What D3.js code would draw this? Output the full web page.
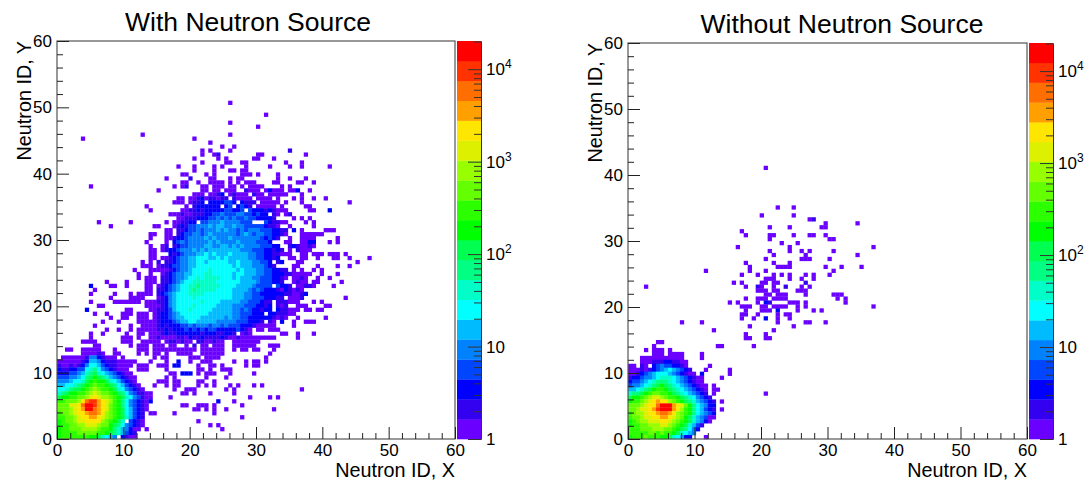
<!DOCTYPE html>
<html>
<head>
<meta charset="utf-8">
<script src="https://d3js.org/d3.v7.min.js"></script>
<style>
  body { margin: 0; background: #fff; }
  text { font-family: "Liberation Sans", Arial, sans-serif; fill: #000; }
</style>
</head>
<body>
<script>
// Colour bands of the z axis, lowest count first
const bandKeys = '0123456789abcdefghij'.split('');
const bandColors = ['#6a00ff', '#3300f0', '#0000ff', '#0046ff', '#0082ff', '#00bcff', '#00ffff', '#00ffc8', '#00ff82', '#00ff50',
  '#00ff00', '#2cff00', '#64ff00', '#98ff00', '#dcf000', '#ffe600', '#ffa000', '#ff6e00', '#ff3200', '#ff0000'];

const majorTicks = [0, 10, 20, 30, 40, 50, 60];
const minorTicks = [2, 4, 6, 8, 12, 14, 16, 18, 22, 24, 26, 28, 32, 34, 36, 38, 42, 44, 46, 48, 52, 54, 56, 58];
const zDecades = [1, 10, 100, 1000, 10000];
const zMinors = [2, 3, 4, 5, 6, 7, 8, 9, 20, 30, 40, 50, 60, 70, 80, 90, 200, 300, 400, 500, 600, 700, 800, 900,
  2000, 3000, 4000, 5000, 6000, 7000, 8000, 9000, 20000];

// Each entry: row from the top of the 100x100 grid, then col:bands runs ('.' = empty bin)
const withSource = [
  'r15 43:0', 'r18 52:0', 'r20 43:0', 'r21 50:0', 'r23 21:0 43:0', 'r24 6:0 34:0', 'r25 38:0', 'r26 41:0 44:0',
  'r27 36:0 38:0 43:0 58:1', 'r28 36:0 39:01 50:0 51:0 62:0', 'r29 34:0 40:0 42:0 49:00 54:0',
  'r30 36:0 42:00 46:00 57:0 61:0', 'r31 30:0 34:0 39:0 41:0 47:0 53:0 58:0 61:0 68:0',
  'r32 34:0 39:0 43:00 46:00', 'r33 31:00 37:0 39:0 46:000 50:0 55:0',
  'r34 27:0 33:1 38:00 43:0 45:00 55:0 58:0 62:0',
  'r35 31:00 35:0 38:00 40:00 43:0 45:0 47:000 54:00 60:00 64:0',
  'r36 8:0 29:0 31:01 36:00 39:000 43:00 46:0 48:0000 56:0 58:0',
  'r37 25:0 36:00 39:00.000 46:.1000.0200 56:0 58:00 60:2 63:0',
  'r38 34:000 38:0012.0100 46:00.100.0000 56:00 61:0',
  'r39 30:00 33:0012011011.10000.0000 55:0 59:0 61:0 64:0 67:0',
  'r40 29:000 33:0112 37:.2222 42:332.2111.00000 55:0 57:0 61:0 73:0',
  'r41 22:0 32:0.122223 39:22.23.233 47:21.00000 56:0 62:00',
  'r42 23:0 31:0011212222233223 47:.32221210 56:00 63:00 68:2',
  'r43 28:000 31:1001112233433344 47:332322.10.01',
  'r44 30:0011122233434343343322221 59:0 61:0 63:0',
  'r45 10:0 18:0 27:0 29:001122.3344454444333 51:.321100 62:0 64:0',
  'r46 13:0 24:00 29:01213344454554454433 49:3332110 57:.0 64:0',
  'r47 27:00 30:112334344454544343444 51:3332211.2.0 67:000',
  'r48 23:00 27:00 29:.1233443454444443454 49:344332210 61:000000',
  'r49 23:0 27:0011 30:22344445454445444 47:444432321 57:.0 61:0000 70:0',
  'r50 22:0 27:0.2 30:34344444545444 44:4544443 51:332 57:00 61:00 63:22 68:0 70:0',
  'r51 23:0 26:01.12 31:3344445544554 44:54544443 52:3322 57:.121 61:0012 64:0',
  'r52 23:00 26:0122 30:344454545555 42:555544 48:43332 53:2121 58:0.10 61:000',
  'r53 23:00 28:2 29:123444556565556 44:5555 48:44332 53:21100 58:0 61:00 64:000 68:000 72:0',
  'r54 23:00 26:0012 30:3445566655 40:6565555 47:54433 52:2212 58:00 61:00 65:0 69:00 73:0 78:0',
  'r55 21:0 23:0 25:1 27:112 30:3445566566 40:6665565554 50:4332 55:12 60:00 75:0',
  'r56 21:000 25:01123 30:344556666666 42:66565554 50:44321 59:00 65:0 70:0 73:0',
  'r57 19:0 23:00000 28:123445666676 40:666665655 49:54433 54:2211 59:0 61:0 64:0 66:0',
  'r58 20:0 23:0 26:012 29:344556667766 41:66656655 49:54433 54:2221 58:1000 62:00 66:0 70:0',
  'r59 20:0 22:000 26:1 27:123445667677 39:77666565 47:5544 51:33322 56:10 59:001 62:0 65:0 68:0',
  'r60 12:0 17:0 22:000 26:1 27:1234 31:5667777 38:776666 44:6655 48:55433 53:3221 59:0100 64:00 71:0',
  'r61 8:2 13:00 17:0 22:00 25:01 27:2345 31:6677877 38:777666 44:6555 48:543 51:333.3221 60:00110 69:0',
  'r62 9:0 22:0 23:0.1 26:12345 31:6678777 38:776666 44:5555 48:43 50:4322 54:210 57:21010',
  'r63 8:0 14:0 18:0 20:000 23:0 25:12 27:3456 31:6677776 38:666666 44:5554 48:43 50:3222 54:2221 58:10012',
  'r64 13:0 18:0000 25:012 28:45 30:6666766 37:666666 43:65554 48:43 50:3322 54:211 58:0001 72:0',
  'r65 8:0 14:0000000 22:00 24:0112 28:45 30:66666676 38:66655 43:55544 48:33 50:3211 55:111000 64:0 66:0',
  'r66 10:00 22:000 25:012 28:45 30:6666766 37:6665 41:55544 46:433 49:3221 53:2.101 60:000 67:00',
  'r67 7:2 17:00 23:001 26:12 28:35 30:6667666 37:6655 41:555443 47:4 48:3221 52:22 55:21100 60:0 62:00 65:00',
  'r68 9:0 12:0 16:000 20:000 24:012 27:2345 31:6666666 38:5555 42:55443 47:33222 53:2211100',
  'r69 13:0 16:00 20:0 21:00 24:0 25:12 27:2345 31:566665 37:55555 42:4544 46:33222 51:222 54:1010 60:0 67:0',
  'r70 11:0 15:0 20:000 23:00 25:12 27:2234 31:5566555 38:55444 43:44333 48:22 50:21.10 56:2 59:0 62:000',
  'r71 9:0 18:0 21:000 24:012 27:12223343444344 41:3433322212 49:10 51:000 54:0 59:0',
  'r72 12:0 15:0 18:0 20:0000 24:0112 28:1222323232332 41:22223212 48:0 50:00 53:000',
  'r73 8:0 11:0 17:0 20:00 23:00 25:012112222 34:22122211221 46:01 48:0 56:00 60:0 64:0',
  'r74 8:0 16:000 20:0 23:0 24:0100 28:0011021121 38:11121001 46:00 48:00 50:00000 60:0',
  'r75 6:0000 16:000 21:0 22:000 25:0.01 29:1010 33:0.110 38:0100 44:0000000',
  'r76 9:00 18:0 20:00 22:0 24:000 28:00 32:0.1 36:00.0 40:00 44:000000 53:000',
  'r77 2:00 6:00000 14:0 20:00 22:0 24:0000 28:0000000 36:000000 44:0 46:00 49:00 54:0',
  'r78 6:000010 14:00 20:0 22:0 24:00 27:0 30:0000 36:000000 53:0',
  'r79 1:00000 6:0144210 13:00 16:0 24:0 26:00 33:000 37:0000 52:0',
  'r80 0:000000 6:1255421 13:1100 17:000 23:0 27:0 30:2 33:0 36:000 44:0 47:0 49:00 52:0',
  'r81 0:100101 6:2466532 13:1100 17:00 20:000 25:000 29:22 35:0 38:00 41:0 47:0 49:00',
  'r82 0:211223 6:3678643 13:2100 17:0 20:000 27:0 35:00 38:0 41:000',
  'r83 0:222334 6:5789765 13:4321 17:00 28:00 31:222 35:0 37:000 43:0 49:0',
  'r84 0:333445 6:689a987 13:543210 19:0 27:0 29:0 37:0 42:0',
  'r85 0:444566 6:79abaa9 13:7653210 25:000 29:00 35:00 39:0',
  'r86 0:556678 6:9abcbba 13:98653210 24:0 27:0 29:00 35:0 37:0 39:0 43:0 45:0 49:0 51:0',
  'r87 0:667899 6:abcdcbb 13:a9764321 21:0 29:0 32:000 42:0 44:0 61:0',
  'r88 0:789aab 6:bcdedcc 13:ba986431 21:100 31:00 34:0 38:0 44:0',
  'r89 0:9aabbc 6:cdefedd 13:cba976431 22:00 28:0 48:0 53:0 55:0',
  'r90 0:bbcccd 6:fhiigfe 13:dba8643210 23:2 40:2 44:0',
  'r91 0:ccceef 6:hjjigfe 13:cba8643210 31:00 35:000 39:0 46:0',
  'r92 0:cccdef 6:gjjhgfe 13:cba9653210 34:00 37:0 39:0 42:0 54:0',
  'r93 0:bccdef 6:fghhgfd 13:cba965321 23:00 29:0 39:0',
  'r94 0:bbccde 6:ffggfed 13:cba975321 46:0',
  'r95 0:abccde 6:effffdc 13:ba97 18:3210 35:0',
  'r96 0:abbccd 6:deeedcc 13:a986432 20:10 38:0 40:0',
  'r97 0:abbccc 6:ddddcbb 13:a87542 19:00 22:0 41:0',
  'r98 0:abbbbc 6:ccccbba 13:9875321',
  'r99 0:abbbbb 6:bbaa976 13:54 16:2100'
];

const withoutSource = [
  'r31 34:0', 'r41 37:0 41:0', 'r43 33:0 41:0', 'r44 45:01', 'r45 49:0 57:0', 'r46 35:0 40:0 48:00',
  'r47 28:0', 'r48 29:0 35:00 41:0 45:00 49:0', 'r49 35:0 50:00', 'r50 38:0 42:0',
  'r51 27:0 40:0 61:0', 'r52 35:0 40:0 43:0 45:0 51:0', 'r53 36:0 44:0 57:0', 'r54 34:0 43:000 50:0',
  'r55 29:0 36:0 40:0', 'r56 30:0 37:0000 49:0 53:0 58:0', 'r57 19:0 30:0 34:0 51:0',
  'r58 28:0 32:0 36:0 38:0 40:0 44:0 46:0 50:0', 'r59 34:000 40:0 43:0 46:0',
  'r60 26:0 28:0 33:00 36:00 44:1', 'r61 4:0 29:0 32:10 36:0 39:1 43:0 45:0',
  'r62 32:000.00 37:0 42:000', 'r63 34:00 37:000 44:0 51:000', 'r64 29:0 32:000 36:0000 52:0 54:0',
  'r65 25:0 27:0 32:0 34:21 40:000 44:0 54:0', 'r66 28:000 33:00 36:0000 42:0 44:0 61:0',
  'r67 29:0 33:000 37:2 42:0 46:0 48:0', 'r68 28:00 32:0 37:0 39:00', 'r69 28:0 31:0 34:2 37:0 40:0',
  'r70 13:0 18:0 37:0 44:00 49:0', 'r71 30:0 41:0', 'r72 21:0 36:0', 'r73 29:0 34:0', 'r74 29:00 34:00',
  'r75 7:00', 'r76 6:0 22:00 31:0', 'r77 4:0 6:000 10:0', 'r78 6:000 10:0000 18:0',
  'r79 3:00000000000 18:0',
  'r80 3:00011122110 14:0',
  'r81 0:00 3:10.234332210 20:0',
  'r82 0:0001 4:012345654321 19:0 25:0',
  'r83 0:0012 4:34566654321 15:00 18:2 25:0',
  'r84 0:1223 4:445677765432 16:100 23:0',
  'r85 0:2334 4:5678887654 14:3210 18:0',
  'r86 0:3445 4:6789a98765 14:43210 19:0 21:0',
  'r87 0:5567 4:89abba9876 14:543210 21:00',
  'r88 0:7889 4:abccbba987 14:654321 21:0 34:0',
  'r89 0:9aab 4:cdeedcbba9 14:8764321',
  'r90 0:abbc 4:defgffdcba 14:98754 19:321 23:0',
  'r91 0:cccd 4:effhjjjgfe 14:ca86 18:5422',
  'r92 0:ccde 4:efgijjjgfd 14:ba86 18:5321 23:0',
  'r93 0:bcdd 4:effghhgfdc 14:ba86 18:5432',
  'r94 0:bccd 4:eeffggfedc 14:a975 18:4321 20:00',
  'r95 0:abcd 4:deeeffedcb 14:a975 18:420',
  'r96 0:abbc 4:cdddeedcba 14:9753 18:1',
  'r97 0:bbbc 4:ccdddccba9 14:864 17:2.',
  'r98 0:bbbb 4:bccbcbba97 14:654',
  'r99 0:abbb 4:cbbbaa9765 14:22 19:0'
];

class HeatPanel {

  /**
   * Class constructor with basic configuration
   */
  constructor(_config, _data) {
    this.config = _config;
    this.data = _data;
    this.initVis();
  }

  /**
   * Scales and static elements: title, axis titles, frame
   */
  initVis() {
    let vis = this;
    const c = vis.config;

    vis.x = d3.scaleLinear().domain([0, 60]).range([c.left, c.right]);
    vis.y = d3.scaleLinear().domain([0, 60]).range([c.bottom, c.top]);
    vis.z = d3.scaleLog().domain([1, zTop]).range([c.bottom, c.top]);
    vis.color = d3.scaleOrdinal(bandKeys, bandColors);

    vis.chart = svg.append('g');

    vis.chart.append('text')
        .attr('x', c.titleX)
        .attr('y', c.titleY)
        .attr('text-anchor', 'middle')
        .attr('font-size', 26.5)
        .text(c.title);

    vis.chart.append('text')
        .attr('x', c.right)
        .attr('y', c.bottom + 38)
        .attr('text-anchor', 'end')
        .attr('font-size', 19.8)
        .text('Neutron ID, X');

    vis.chart.append('text')
        .attr('transform', `translate(${c.left - 26},${c.top}) rotate(-90)`)
        .attr('text-anchor', 'end')
        .attr('font-size', 19.8)
        .text('Neutron ID, Y');

    vis.renderVis();
  }

  /**
   * Decode the rows and bind them to cells, then draw axes and colour bar on top
   */
  renderVis() {
    let vis = this;
    const c = vis.config;
    const binSize = 0.6;

    const cells = new Map();
    vis.data.forEach(line => {
      const parts = line.split(' ');
      const row = +parts[0].slice(1);
      parts.slice(1).forEach(run => {
        const [col, bands] = run.split(':');
        bands.split('').forEach((b, i) => {
          const key = row + '_' + (+col + i);
          if (b === '.') cells.delete(key);
          else cells.set(key, {col: +col + i, row: 99 - row, band: b});
        });
      });
    });

    vis.chart.selectAll('.cell')
        .data([...cells.values()])
      .join('rect')
        .attr('class', 'cell')
        .attr('x', d => vis.x(d.col * binSize))
        .attr('y', d => vis.y((d.row + 1) * binSize))
        .attr('width', d => vis.x((d.col + 1) * binSize) - vis.x(d.col * binSize) + 0.3)
        .attr('height', d => vis.y(d.row * binSize) - vis.y((d.row + 1) * binSize) + 0.3)
        .attr('fill', d => vis.color(d.band));

    // Frame
    vis.chart.append('rect')
        .attr('x', c.left)
        .attr('y', c.top)
        .attr('width', c.right - c.left)
        .attr('height', c.bottom - c.top)
        .attr('fill', 'none')
        .attr('stroke', '#555')
        .attr('stroke-width', 1.2);

    const xMajor = d3.axisBottom(vis.x).tickValues(majorTicks).tickSizeInner(-12).tickSizeOuter(0).tickPadding(5);
    const xMinor = d3.axisBottom(vis.x).tickValues(minorTicks).tickSizeInner(-6).tickSizeOuter(0).tickFormat('');
    const yMajor = d3.axisLeft(vis.y).tickValues(majorTicks).tickSizeInner(-12).tickSizeOuter(0).tickPadding(5);
    const yMinor = d3.axisLeft(vis.y).tickValues(minorTicks).tickSizeInner(-6).tickSizeOuter(0).tickFormat('');

    [[xMajor, 'b'], [xMinor, 'b'], [yMajor, 'l'], [yMinor, 'l']].forEach(([axis, side]) => {
      const g = vis.chart.append('g')
          .attr('transform', side === 'b' ? `translate(0,${c.bottom})` : `translate(${c.left},0)`)
          .call(axis);
      g.select('.domain').remove();
      g.selectAll('line').attr('stroke', '#222');
      g.selectAll('text').attr('font-size', 17).attr('font-family', '"Liberation Sans", Arial, sans-serif').attr('fill', '#000');
    });

    // Colour bar: one rect per band, evenly spaced on the log axis
    const barX = c.right + 2;
    const barWidth = 24;
    const bandScale = d3.scaleBand().domain(bandKeys).range([c.bottom, c.top]);

    vis.chart.selectAll('.band')
        .data(bandKeys)
      .join('rect')
        .attr('class', 'band')
        .attr('x', barX)
        .attr('y', d => bandScale(d))
        .attr('width', barWidth)
        .attr('height', bandScale.bandwidth() + 0.3)
        .attr('fill', d => vis.color(d));

    const zAxisX = barX + barWidth;
    const zMajorG = vis.chart.append('g')
        .attr('transform', `translate(${zAxisX},0)`)
        .call(d3.axisRight(vis.z).tickValues(zDecades).tickSizeInner(-13).tickSizeOuter(0).tickFormat(''));
    const zMinorG = vis.chart.append('g')
        .attr('transform', `translate(${zAxisX},0)`)
        .call(d3.axisRight(vis.z).tickValues(zMinors).tickSizeInner(-7).tickSizeOuter(0).tickFormat(''));
    zMinorG.select('.domain').attr('stroke', '#333');
    zMajorG.select('.domain').attr('stroke', '#333');
    zMajorG.selectAll('line').attr('stroke', '#333');
    zMinorG.selectAll('line').attr('stroke', '#333');

    const zLabel = vis.chart.selectAll('.zlabel')
        .data(zDecades)
      .join('text')
        .attr('class', 'zlabel')
        .attr('x', zAxisX + 5)
        .attr('y', d => vis.z(d) + 6)
        .attr('font-size', 17);
    zLabel.append('tspan').text(d => d === 1 ? '1' : '10');
    zLabel.filter(d => d > 10).append('tspan')
        .attr('dy', -7)
        .attr('font-size', 12)
        .text(d => Math.round(Math.log10(d)));
  }
}

const zTop = 20200;
const svg = d3.select('body').append('svg').attr('width', 1084).attr('height', 481).style('display', 'block');

new HeatPanel({title: 'With Neutron Source', titleX: 248, titleY: 31, left: 57, right: 455, top: 41, bottom: 439}, withSource);
new HeatPanel({title: 'Without Neutron Source', titleX: 842, titleY: 33, left: 628, right: 1027, top: 43, bottom: 439}, withoutSource);
</script>
</body>
</html>
